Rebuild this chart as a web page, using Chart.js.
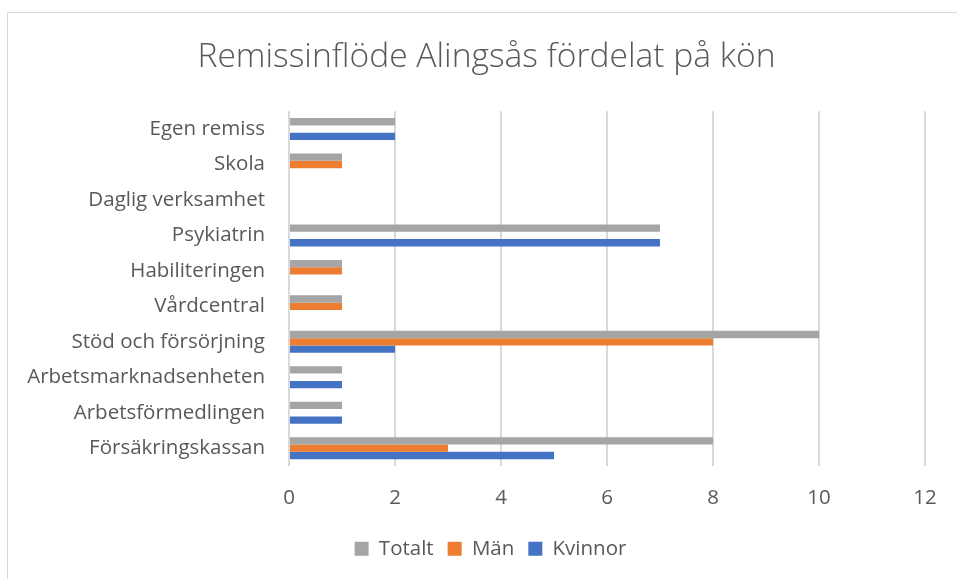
<!DOCTYPE html>
<html>
<head>
<meta charset="utf-8">
<script src="https://cdn.jsdelivr.net/npm/chart.js@4"></script>
<style>
  html, body { margin: 0; padding: 0; background: #fff; overflow: hidden; }
  #wrap { position: relative; width: 957px; height: 579px; }
  #frame { position: absolute; left: 7px; top: 12px; width: 970px; height: 600px; border: 1px solid #d9d9d9; box-sizing: border-box; }
  canvas { position: absolute; left: 0; top: 0; }
</style>
</head>
<body>
<div id="wrap">
  <div id="frame"></div>
  <canvas id="remissChart" width="957" height="579"></canvas>
</div>
<script>
  const categories = [
    "Egen remiss",
    "Skola",
    "Daglig verksamhet",
    "Psykiatrin",
    "Habiliteringen",
    "Vårdcentral",
    "Stöd och försörjning",
    "Arbetsmarknadsenheten",
    "Arbetsförmedlingen",
    "Försäkringskassan"
  ];
  const totalt = [2, 1, 0, 7, 1, 1, 10, 1, 1, 8];
  const man = [0, 1, 0, 0, 1, 1, 8, 0, 0, 3];
  const kvinnor = [2, 0, 0, 7, 0, 0, 2, 1, 1, 5];
  const xTicks = [0, 2, 4, 6, 8, 10, 12];

  const textColor = "#595959";
  const fontFamily = "'Open Sans', sans-serif";
  const labelFont = { family: fontFamily, size: 20.5 };

  // title and legend sit centred over the whole frame, not the padded chart box
  const shiftBlocks = {
    id: "shiftBlocks",
    afterLayout(chart) {
      const moves = [[chart.titleBlock, 24], [chart.legend, 28]];
      moves.forEach(([box, dx]) => {
        if (!box) return;
        box.left += dx;
        box.right += dx;
      });
    }
  };

  new Chart(document.getElementById("remissChart").getContext("2d"), {
    type: "bar",
    data: {
      labels: categories,
      datasets: [
        { label: "Totalt", data: totalt, backgroundColor: "#a5a5a5" },
        { label: "Män", data: man, backgroundColor: "#ed7d31" },
        { label: "Kvinnor", data: kvinnor, backgroundColor: "#4472c4" }
      ]
    },
    plugins: [shiftBlocks],
    options: {
      indexAxis: "y",
      responsive: false,
      animation: false,
      datasets: {
        bar: { categoryPercentage: 0.62, barPercentage: 1.0 }
      },
      layout: { padding: { left: 0, right: 32, top: 0, bottom: 10 } },
      plugins: {
        title: {
          display: true,
          text: "Remissinflöde Alingsås fördelat på kön",
          color: textColor,
          font: { family: fontFamily, size: 33.6, weight: "300" },
          padding: { top: 37, bottom: 34 }
        },
        legend: {
          position: "bottom",
          labels: {
            color: textColor,
            font: labelFont,
            boxWidth: 14,
            boxHeight: 14,
            padding: 14
          }
        },
        tooltip: { enabled: false }
      },
      scales: {
        x: {
          min: 0,
          max: 12,
          afterBuildTicks: (scale) => { scale.ticks = xTicks.map(v => ({ value: v })); },
          // the legend's top padding is empty, so the tick row may reach into it
          afterFit: (scale) => { scale.height -= 6; },
          grid: { color: "#d9d9d9", lineWidth: 2, drawTicks: false },
          border: { display: false },
          ticks: { color: textColor, font: labelFont, padding: 20 }
        },
        y: {
          grid: { display: false, drawTicks: false },
          border: { display: false },
          afterFit: (scale) => { scale.width = 289; },
          ticks: { color: textColor, font: labelFont, padding: 24 }
        }
      }
    }
  });
</script>
</body>
</html>
